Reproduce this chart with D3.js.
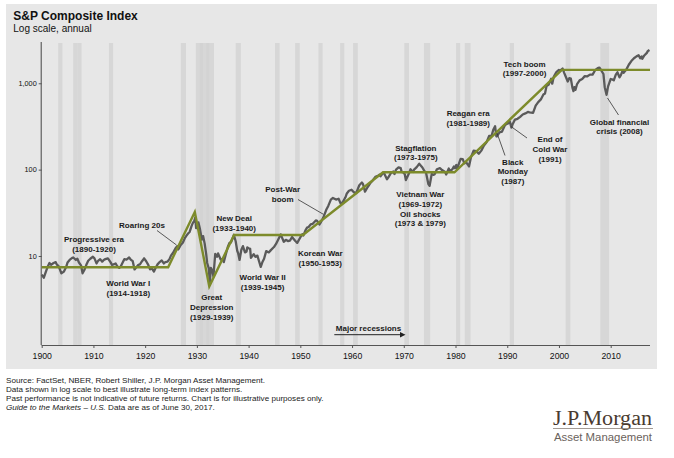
<!DOCTYPE html>
<html><head><meta charset="utf-8">
<script src="https://cdn.jsdelivr.net/npm/d3@7"></script>
<style>
html,body{margin:0;padding:0;background:#fff;}
svg{display:block;font-family:"Liberation Sans",Arial,sans-serif;}
</style></head>
<body>
<svg id="chart" width="674" height="458"></svg>
<script>
// ---------- DATA ----------
const xTicks = [1900,1910,1920,1930,1940,1950,1960,1970,1980,1990,2000,2010];
const yTicks = [10,100,1000];
const recessions = [[1903.2,1904.0],[1906.1,1906.9],[1906.9,1907.7],[1913.0,1913.8],[1926.9,1927.9],
  [1929.8,1931.2],[1930.6,1932.4],[1931.8,1933.3],[1937.5,1938.5],[1945.1,1946.0],[1949.0,1949.9],
  [1953.5,1954.3],[1957.7,1958.5],[1960.2,1961.1],[1970.1,1971.0],[1973.9,1975.1],[1980.1,1980.9],
  [1981.8,1982.9],[1990.5,1991.3],[2001.3,2002.2],[2008.0,2009.7]];
const trend = [[1900,7.4],[1924.45,7.4],[1929.6,32.4],[1932.4,4.45],[1937.2,17.5],[1950.5,17.5],
  [1966.0,93.2],[1979.8,93.2],[2000.55,1428],[2017.6,1428]];
const spx = [
 [1900.0,6.1],[1900.4,5.6],[1900.9,6.8],[1901.2,7.6],[1901.5,8.3],[1901.8,7.9],[1902.3,8.3],[1902.7,8.5],[1902.9,8.0],
 [1903.3,7.6],[1903.8,6.3],[1904.3,6.6],[1904.7,7.4],[1904.99,8.4],[1905.4,9.0],[1905.9,9.5],[1906.1,9.6],[1906.6,9.0],
 [1906.9,9.3],[1907.2,8.4],[1907.6,7.8],[1907.9,6.3],[1908.3,7.0],[1908.7,8.1],[1908.99,8.8],[1909.4,9.3],[1909.9,9.8],
 [1910.2,9.4],[1910.6,8.2],[1910.9,8.8],[1911.3,9.2],[1911.7,8.6],[1911.99,9.0],[1912.3,9.2],[1912.8,9.4],[1913.3,8.5],
 [1913.6,7.9],[1913.9,8.0],[1914.3,8.2],[1914.6,7.6],[1914.99,7.3],[1915.3,7.6],[1915.7,8.5],[1915.99,9.2],[1916.4,9.1],
 [1916.9,9.6],[1917.2,9.1],[1917.6,8.7],[1917.95,7.0],[1918.3,7.4],[1918.7,7.9],[1918.99,8.0],[1919.4,8.7],[1919.8,9.4],
 [1920.2,8.7],[1920.6,7.9],[1920.95,7.0],[1921.3,7.2],[1921.7,6.6],[1921.99,7.2],[1922.4,8.0],[1922.8,8.5],[1923.2,8.9],
 [1923.6,8.2],[1923.9,8.5],[1924.3,8.6],[1924.7,9.2],[1924.99,10.1],[1925.4,10.9],[1925.9,12.4],[1926.2,13.0],[1926.4,11.9],
 [1926.8,13.2],[1927.3,14.3],[1927.7,16.2],[1927.99,17.2],[1928.3,18.2],[1928.6,19.0],[1928.95,22.0],[1929.2,24.0],
 [1929.5,25.5],[1929.7,28.0],[1929.85,21.0],[1930.0,21.5],[1930.3,24.5],[1930.6,20.5],[1930.95,15.5],[1931.2,17.0],
 [1931.5,14.0],[1931.8,10.5],[1931.99,8.3],[1932.3,7.2],[1932.5,4.9],[1932.7,7.3],[1932.99,6.8],[1933.2,5.8],[1933.55,10.6],
 [1933.9,9.8],[1934.1,10.7],[1934.6,9.1],[1934.99,9.2],[1935.2,8.5],[1935.6,10.5],[1935.99,12.8],[1936.3,14.2],[1936.6,14.4],
 [1936.99,16.5],[1937.15,17.6],[1937.5,14.8],[1937.8,11.5],[1937.99,10.7],[1938.25,9.0],[1938.6,11.8],[1938.9,13.0],
 [1939.3,11.0],[1939.6,11.3],[1939.75,12.6],[1939.99,12.3],[1940.3,12.1],[1940.45,9.5],[1940.99,10.5],[1941.3,9.8],
 [1941.7,10.1],[1941.99,8.8],[1942.35,7.5],[1942.7,8.6],[1942.99,9.3],[1943.4,11.4],[1943.9,11.0],[1944.3,11.7],
 [1944.9,12.7],[1945.3,13.8],[1945.9,16.3],[1946.2,17.8],[1946.8,14.6],[1947.2,15.4],[1947.6,14.9],[1947.99,15.1],
 [1948.4,16.6],[1948.99,15.0],[1949.4,14.2],[1949.99,16.4],[1950.4,17.9],[1950.6,17.3],[1950.99,19.8],[1951.3,21.3],
 [1951.6,21.7],[1951.99,23.2],[1952.4,23.6],[1952.99,25.8],[1953.2,25.7],[1953.7,23.2],[1953.99,24.7],[1954.4,27.5],
 [1954.99,34.0],[1955.4,38.0],[1955.9,45.0],[1956.3,47.0],[1956.9,45.0],[1957.4,46.0],[1957.8,40.4],[1958.2,42.0],
 [1958.7,47.5],[1958.99,53.0],[1959.4,57.0],[1959.9,58.5],[1960.3,55.0],[1960.8,53.5],[1961.4,66.0],[1961.9,71.0],
 [1962.1,68.5],[1962.5,55.6],[1962.99,62.5],[1963.5,69.5],[1963.99,75.0],[1964.5,82.5],[1964.99,84.5],[1965.3,87.5],
 [1965.5,84.0],[1965.99,91.5],[1966.1,93.0],[1966.75,77.5],[1966.99,81.0],[1967.5,91.0],[1967.99,95.0],[1968.2,89.0],
 [1968.5,100],[1968.99,106],[1969.4,104],[1969.6,94],[1969.99,92],[1970.2,88],[1970.4,75.6],[1970.99,90],[1971.3,101],
 [1971.8,94],[1971.99,100],[1972.5,107],[1972.99,117],[1973.1,115],[1973.6,106],[1973.99,96],[1974.3,92],[1974.75,68],
 [1974.99,65],[1975.4,89],[1975.7,87],[1975.99,88.7],[1976.4,101],[1976.99,104],[1977.4,99],[1977.99,94],[1978.2,88],
 [1978.7,103],[1978.85,96],[1979.4,101],[1979.7,109],[1979.9,104],[1980.15,113],[1980.3,102],[1980.99,133],[1981.4,132],
 [1981.7,118],[1981.99,123],[1982.4,114],[1982.6,109],[1982.99,139],[1983.5,166],[1983.99,164],[1984.5,153],[1984.99,166],
 [1985.5,190],[1985.99,207],[1986.5,246],[1986.99,248],[1987.3,290],[1987.65,318],[1987.9,243],[1987.99,242],[1988.5,270],
 [1988.99,276],[1989.5,323],[1989.99,346],[1990.1,340],[1990.5,360],[1990.8,307],[1990.99,330],[1991.5,380],[1991.99,388],
 [1992.5,408],[1992.99,435],[1993.5,448],[1993.99,466],[1994.3,460],[1994.99,455],[1995.5,550],[1995.99,606],[1996.5,650],
 [1996.99,740],[1997.3,760],[1997.6,930],[1997.99,960],[1998.5,1130],[1998.7,990],[1998.99,1190],[1999.5,1350],
 [1999.99,1430],[2000.2,1400],[2000.7,1480],[2000.99,1330],[2001.3,1200],[2001.7,1050],[2001.99,1145],[2002.3,1130],
 [2002.6,890],[2002.8,810],[2002.99,900],[2003.2,840],[2003.5,980],[2003.99,1080],[2004.5,1120],[2004.99,1210],
 [2005.5,1205],[2005.99,1260],[2006.5,1260],[2006.99,1416],[2007.5,1500],[2007.8,1520],[2007.99,1470],[2008.3,1370],
 [2008.6,1280],[2008.85,900],[2009.2,735],[2009.5,920],[2009.99,1120],[2010.4,1100],[2010.6,1080],[2010.99,1260],
 [2011.3,1340],[2011.7,1170],[2011.99,1250],[2012.3,1400],[2012.5,1320],[2012.99,1430],[2013.5,1640],[2013.99,1810],
 [2014.5,1950],[2014.99,2050],[2015.4,2110],[2015.7,1950],[2015.99,2050],[2016.1,1920],[2016.5,2100],[2016.99,2250],
 [2017.2,2370],[2017.5,2430]];
const annotations = [
 {lines:["Progressive era","(1890-1920)"], x:94, y:239.3},
 {lines:["Roaring 20s"], x:142, y:224.5, leader:[157,230.5,176.5,245]},
 {lines:["World War I","(1914-1918)"], x:128.3, y:283},
 {lines:["Great","Depression","(1929-1939)"], x:211.7, y:297.3},
 {lines:["New Deal","(1933-1940)"], x:234.2, y:218},
 {lines:["World War II","(1939-1945)"], x:262.6, y:277.3},
 {lines:["Post-War","boom"], x:282.7, y:189.2, leader:[298,199.5,323.4,214.3]},
 {lines:["Korean War","(1950-1953)"], x:320.2, y:253.3},
 {lines:["Stagflation","(1973-1975)"], x:415.8, y:147.5},
 {lines:["Vietnam War","(1969-1972)","Oil shocks","(1973 & 1979)"], x:420.3, y:194.3},
 {lines:["Reagan era","(1981-1989)"], x:468.2, y:113.3},
 {lines:["Black","Monday","(1987)"], x:512.8, y:161.7, leader:[505,155.5,497,133]},
 {lines:["End of","Cold War","(1991)"], x:550, y:139.2, leader:[527,138,511,126.5]},
 {lines:["Tech boom","(1997-2000)"], x:524.5, y:63.7},
 {lines:["Global financial","crisis (2008)"], x:619.5, y:121.7, leader:[618.5,115,607.5,98]}
];
const footnotes = ["Source: FactSet, NBER, Robert Shiller, J.P. Morgan Asset Management.",
 "Data shown in log scale to best illustrate long-term index patterns.",
 "Past performance is not indicative of future returns. Chart is for illustrative purposes only."];

// ---------- DRAW ----------
const svg = d3.select("#chart");
svg.append("rect").attr("x",6).attr("y",4).attr("width",651).attr("height",365).attr("fill","#e7e7e7");

const x = d3.scaleLinear().domain([1900,2017.6]).range([41.7,650]);
const y = d3.scaleLog().domain([0.932,3006]).range([345,42]);

// recession bands
svg.append("g").selectAll("rect").data(recessions).join("rect")
  .attr("x",d=>x(d[0])).attr("width",d=>x(d[1])-x(d[0]))
  .attr("y",43).attr("height",302).attr("fill","#d2d2d2").attr("opacity",0.75);

// axes
const xAxis = d3.axisBottom(x).tickValues(xTicks).tickFormat(d3.format("d")).tickSize(3).tickSizeOuter(0);
const gx = svg.append("g").attr("transform","translate(0,345)").call(xAxis);
gx.select(".domain").attr("stroke","#555").attr("d","M41.7,0.5H650");
gx.selectAll(".tick line").attr("stroke","#555");
gx.selectAll("text").attr("font-size",8.7).attr("fill","#111").attr("dy","0.95em")
  .attr("font-family","Liberation Sans, Arial, sans-serif");

const yAxis = d3.axisLeft(y).tickValues(yTicks).tickFormat(d3.format(",")).tickSize(3).tickSizeOuter(0);
const gy = svg.append("g").attr("transform","translate(41.7,0)").call(yAxis);
gy.select(".domain").attr("stroke","#444").attr("d","M-0.5,42V345");
gy.selectAll(".tick line").attr("stroke","#555");
gy.selectAll("text").attr("font-size",7.3).attr("fill","#111").attr("x",-5)
  .attr("font-family","Liberation Sans, Arial, sans-serif");

// series
const line = d3.line().x(d=>x(d[0])).y(d=>y(d[1]));
svg.append("path").datum(spx).attr("d",line).attr("fill","none")
  .attr("stroke","#5a5a5a").attr("stroke-width",2.3).attr("stroke-linejoin","round");
svg.append("path").datum(trend).attr("d",line).attr("fill","none")
  .attr("stroke","#7d8b2b").attr("stroke-width",2.4).attr("stroke-linejoin","miter");

// annotations
const ann = svg.append("g").attr("font-size",8).attr("font-weight","bold").attr("fill","#1a1a1a")
  .attr("text-anchor","middle");
annotations.forEach(a=>{
  a.lines.forEach((t,i)=>{
    ann.append("text").attr("x",a.x).attr("y",a.y+3+i*9.7).text(t);
  });
  if(a.leader){
    svg.append("line").attr("x1",a.leader[0]).attr("y1",a.leader[1]).attr("x2",a.leader[2]).attr("y2",a.leader[3])
      .attr("stroke","#333").attr("stroke-width",0.8);
  }
});
ann.append("text").attr("x",368.5).attr("y",331.2).text("Major recessions");
svg.append("line").attr("x1",334.3).attr("y1",334.7).attr("x2",401).attr("y2",334.7)
  .attr("stroke","#222").attr("stroke-width",1);
svg.append("path").attr("d","M400,331.9L405.5,334.7L400,337.5Z").attr("fill","#222");

// title
svg.append("text").attr("x",13.3).attr("y",20).attr("font-size",12).attr("font-weight","bold")
  .attr("fill","#111").text("S&P Composite Index");
svg.append("text").attr("x",13.3).attr("y",31.7).attr("font-size",10).attr("fill","#111").text("Log scale, annual");

// footnotes
const fn = svg.append("g").attr("font-size",8.1).attr("fill","#222");
footnotes.forEach((t,i)=>fn.append("text").attr("x",6).attr("y",383+i*9).text(t));
const last = fn.append("text").attr("x",6).attr("y",383+3*9);
last.append("tspan").attr("font-style","italic").text("Guide to the Markets \u2013 U.S.");
last.append("tspan").text(" Data are as of June 30, 2017.");

// logo
svg.append("text").attr("x",553).attr("y",424.5).attr("font-family","Liberation Serif, Times New Roman, serif")
  .attr("font-size",20.5).attr("fill","#4a3b30").attr("textLength",99).attr("lengthAdjust","spacingAndGlyphs").text("J.P.Morgan");
svg.append("line").attr("x1",553).attr("x2",653).attr("y1",428.5).attr("y2",428.5).attr("stroke","#8a8078").attr("stroke-width",0.8);
svg.append("text").attr("x",554).attr("y",441).attr("font-size",11).attr("fill","#6a625c")
  .attr("textLength",98).attr("lengthAdjust","spacingAndGlyphs").text("Asset Management");
</script>
</body></html>
